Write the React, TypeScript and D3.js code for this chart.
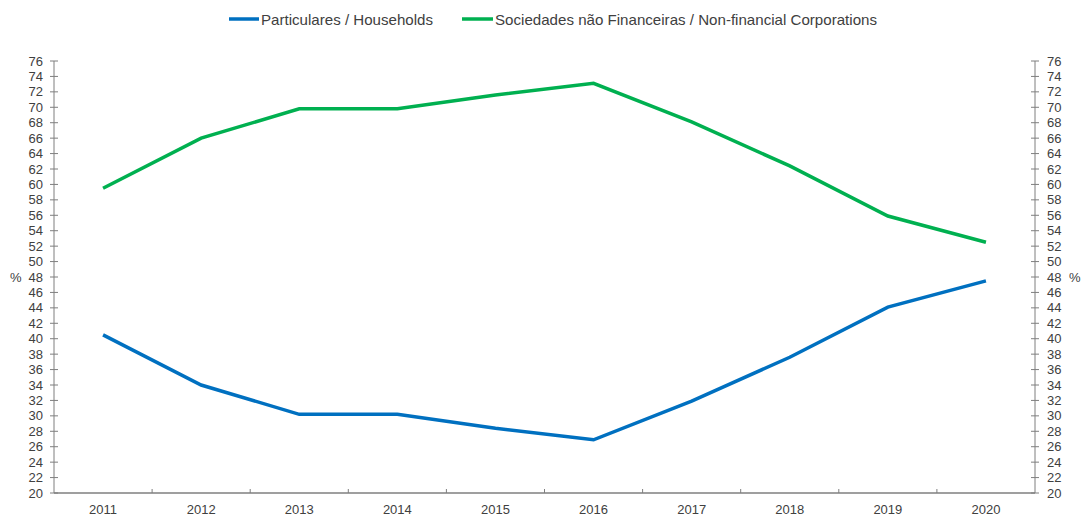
import React from "react";
import * as d3 from "d3";

const years = ["2011","2012","2013","2014","2015","2016","2017","2018","2019","2020"];
const households = [40.5, 34.0, 30.2, 30.2, 28.4, 26.9, 31.9, 37.6, 44.1, 47.5];
const corporations = [59.5, 66.0, 69.8, 69.8, 71.6, 73.1, 68.1, 62.4, 55.9, 52.5];
const yTicks = d3.range(20, 77, 2);
const seriesNames = ["Particulares / Households", "Sociedades não Financeiras / Non-financial Corporations"];

const W = 1081, H = 517;
const left = 54, right = 1035, top = 61, bottom = 493;
const font = "'Liberation Sans', Arial, sans-serif";
const axisColor = "#7f7f7f";
const textColor = "#404040";

export default function App() {
  const x = d3.scaleBand().domain(years).range([left, right]);
  const y = d3.scaleLinear().domain([20, 76]).range([bottom, top]);
  const line = d3.line<number>()
    .x((_, i) => (x(years[i]) as number) + x.bandwidth() / 2)
    .y(d => y(d));
  const colors = ["#0070C0", "#00B050"];
  const data = [households, corporations];

  return (
    <svg width={W} height={H} style={{ position: "absolute", left: 0, top: 0 }} fontFamily={font}>
      <rect width={W} height={H} fill="#fff" />
      {/* legend */}
      <g fontSize={15} fill={textColor}>
        <line x1={229} x2={259} y1={19} y2={19} stroke={colors[0]} strokeWidth={3.5} />
        <text x={261} y={24.5} textLength={172} lengthAdjust="spacingAndGlyphs">{seriesNames[0]}</text>
        <line x1={462} x2={493} y1={19} y2={19} stroke={colors[1]} strokeWidth={3.5} />
        <text x={495} y={24.5} textLength={382} lengthAdjust="spacingAndGlyphs">{seriesNames[1]}</text>
      </g>
      {/* left axis */}
      <line x1={left} x2={left} y1={top} y2={bottom} stroke={axisColor} strokeWidth={1} />
      <line x1={right} x2={right} y1={top} y2={bottom} stroke={axisColor} strokeWidth={1} />
      {yTicks.map(t => (
        <g key={t}>
          <line x1={left - 4} x2={left + 4} y1={y(t)} y2={y(t)} stroke={axisColor} />
          <line x1={right - 4} x2={right + 4} y1={y(t)} y2={y(t)} stroke={axisColor} />
          <text x={43} y={y(t) + 4.5} textAnchor="end" fontSize={13} fill={textColor}>{t}</text>
          <text x={1047} y={y(t) + 4.5} textAnchor="start" fontSize={13} fill={textColor}>{t}</text>
        </g>
      ))}
      <text x={10} y={y(48) + 4.5} fontSize={13} fill={textColor}>%</text>
      <text x={1069} y={y(48) + 4.5} fontSize={13} fill={textColor}>%</text>
      {/* x axis */}
      <line x1={left} x2={right} y1={bottom} y2={bottom} stroke={axisColor} strokeWidth={1.5} />
      {years.map((yr, i) => (
        <g key={yr}>
          {i > 0 && <line x1={x(yr)} x2={x(yr)} y1={bottom} y2={bottom - 4} stroke={axisColor} />}
          <text x={(x(yr) as number) + x.bandwidth() / 2} y={514} textAnchor="middle" fontSize={13} fill={textColor}>{yr}</text>
        </g>
      ))}
      {/* lines */}
      {data.map((d, i) => (
        <path key={i} d={line(d) as string} fill="none" stroke={colors[i]} strokeWidth={3.5} strokeLinejoin="miter" />
      ))}
    </svg>
  );
}
